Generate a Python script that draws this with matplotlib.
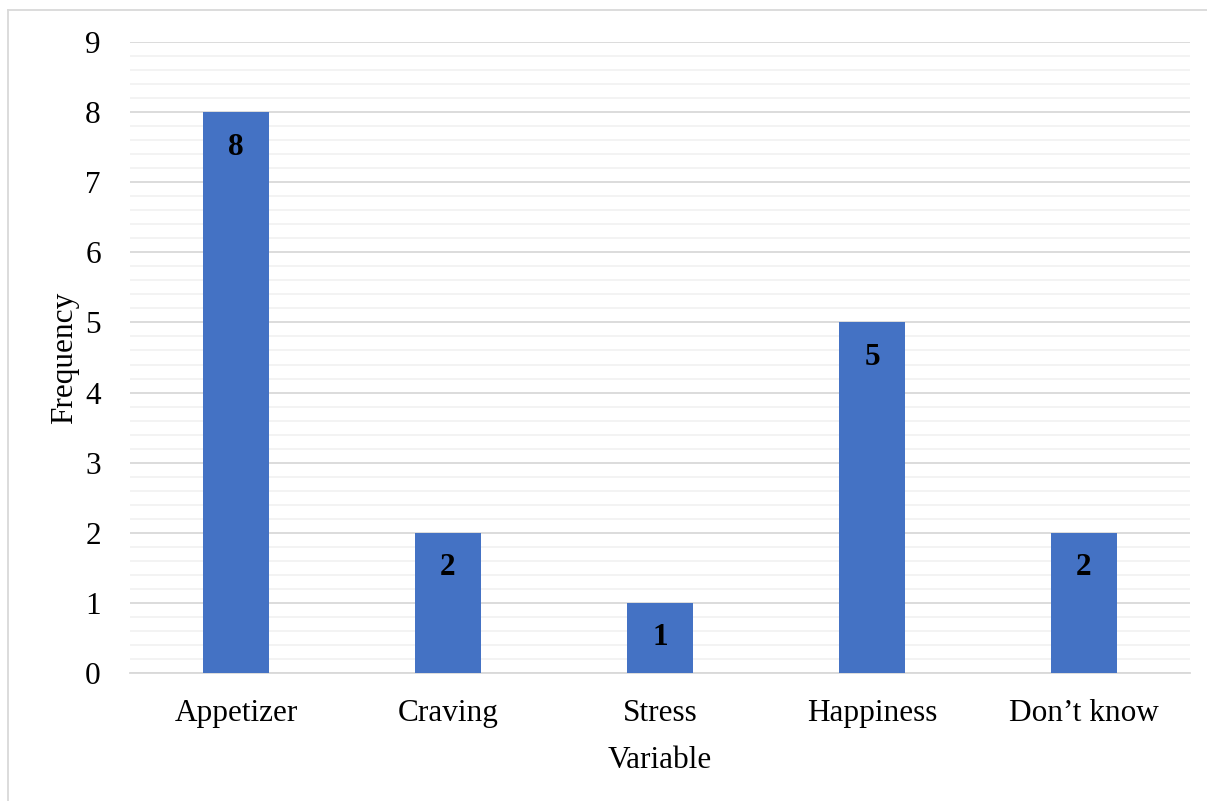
import matplotlib
matplotlib.use("Agg")
import matplotlib.pyplot as plt
from matplotlib.lines import Line2D
import numpy as np

categories = ["Appetizer", "Craving", "Stress", "Happiness", "Don\u2019t know"]
values = [8, 2, 1, 5, 2]
yticks = list(range(0, 10))

plt.rcParams['font.family'] = ['Liberation Serif', 'DejaVu Serif']

W, H = 1207, 801
FS = 22.5
fig = plt.figure(figsize=(W / 100, H / 100), dpi=100)
ax = fig.add_axes([130 / W, 1 - 673 / H, 1060 / W, (673 - 42) / H])

x = np.arange(len(categories))
ax.bar(x, values, width=0.31, color="#4472C4", zorder=3)
ax.set_xlim(-0.5, len(categories) - 0.5)
ax.set_ylim(0, 9)
ax.set_yticks(yticks)
ax.set_yticks(np.arange(0, 9.01, 0.2), minor=True)
ax.set_xticks(x)
ax.set_xticklabels(categories, fontsize=FS)
ax.tick_params(axis='y', labelsize=FS, length=0, pad=21, which='both')
ax.tick_params(axis='x', length=0, pad=19)
ax.grid(axis='y', which='major', color='#D9D9D9', linewidth=1.3, zorder=0)
ax.grid(axis='y', which='minor', color='#F2F2F2', linewidth=1.3, zorder=0)
for s in ['top', 'right', 'left']:
    ax.spines[s].set_visible(False)
ax.spines['bottom'].set_color('#D9D9D9')
ax.spines['bottom'].set_linewidth(1.3)

for xi, v in zip(x, values):
    ax.annotate(str(v), (xi, v), xytext=(0, -35), textcoords='offset pixels',
                ha='center', va='center', fontsize=FS, fontweight='bold', zorder=4)

ax.set_xlabel("Variable", fontsize=FS, labelpad=13)
ax.set_ylabel("Frequency", fontsize=FS)
ax.yaxis.set_label_coords(-(130 - 79) / 1060, 0.5)

fig.add_artist(Line2D([8 / W, 8 / W], [0, 1 - 10 / H], transform=fig.transFigure, color='#D9D9D9', lw=1.3))
fig.add_artist(Line2D([8 / W, 1], [1 - 10 / H, 1 - 10 / H], transform=fig.transFigure, color='#D9D9D9', lw=1.3))

fig.savefig("out.png", dpi=100)
